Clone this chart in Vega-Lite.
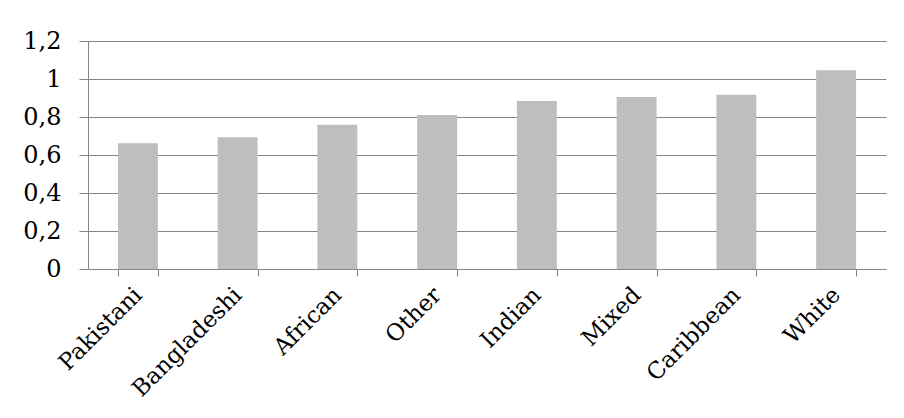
{
  "$schema": "https://vega.github.io/schema/vega-lite/v6.json",
  "autosize": "none",
  "width": 798,
  "height": 228,
  "padding": {"left": 88, "top": 41, "right": 18, "bottom": 149},
  "background": "white",
  "data": {"values": [
    {"group": "Pakistani", "value": 0.662},
    {"group": "Bangladeshi", "value": 0.694},
    {"group": "African", "value": 0.759},
    {"group": "Other", "value": 0.81},
    {"group": "Indian", "value": 0.884},
    {"group": "Mixed", "value": 0.905},
    {"group": "Caribbean", "value": 0.917},
    {"group": "White", "value": 1.046}
  ]},
  "mark": {"type": "bar", "color": "#bebebe"},
  "encoding": {
    "x": {
      "field": "group", "type": "nominal", "sort": null,
      "scale": {"paddingInner": 0.6, "paddingOuter": 0.3},
      "axis": {
        "title": null, "labelAngle": -45, "labelAlign": "right", "labelBaseline": "middle",
        "labelFont": "DejaVu Serif", "labelFontSize": 23, "labelColor": "black",
        "labelPadding": 15, "tickBand": "extent", "tickSize": 7, "tickColor": "#868686",
        "domainColor": "#868686", "grid": false
      }
    },
    "y": {
      "field": "value", "type": "quantitative",
      "scale": {"domain": [0, 1.2], "nice": false},
      "axis": {
        "title": null, "values": [0, 0.2, 0.4, 0.6, 0.8, 1, 1.2],
        "labelExpr": "replace(format(datum.value, '~g'), '.', ',')",
        "labelFont": "DejaVu Serif", "labelFontSize": 24, "labelColor": "black",
        "labelPadding": 18, "tickSize": 9, "tickColor": "#868686",
        "domainColor": "#868686", "gridColor": "#868686", "gridOpacity": 1
      }
    }
  },
  "config": {"view": {"stroke": null}}
}
